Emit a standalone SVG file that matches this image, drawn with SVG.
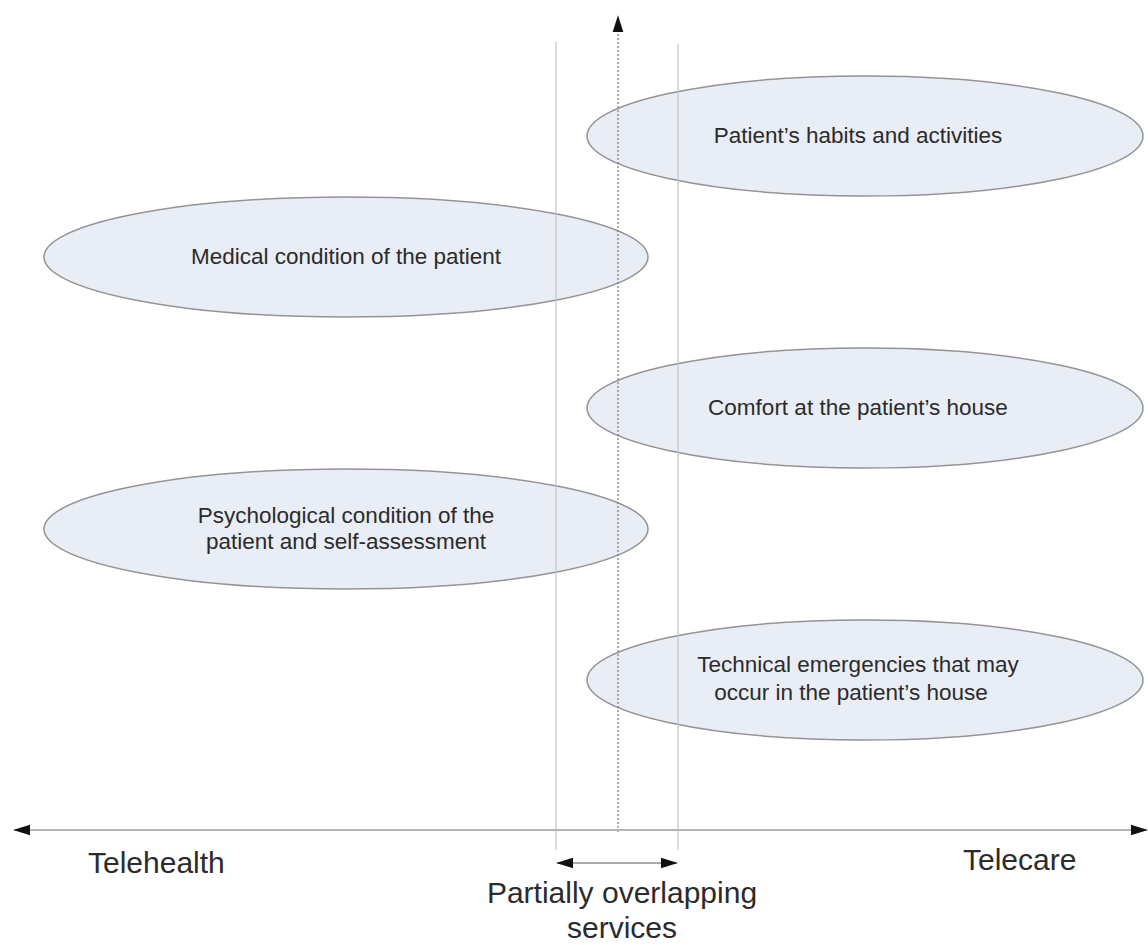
<svg xmlns="http://www.w3.org/2000/svg" width="1148" height="945" viewBox="0 0 1148 945">
  <style>
    .blob { fill: #e9edf5; stroke: #949494; stroke-width: 1.5; }
    .lbl { font-family: "Liberation Sans", Arial, sans-serif; font-size: 22.5px; fill: #2b2b2b; text-anchor: middle; }
    .axis-lbl { font-family: "Liberation Sans", Arial, sans-serif; font-size: 30px; fill: #2b2b2b; }
    .guide { stroke: #c4c4c4; stroke-width: 1.2; fill: none; }
    .axis { stroke: #b5b5b5; stroke-width: 2; fill: none; }
  </style>
  <defs>
    <marker id="head" viewBox="0 0 10 10" refX="9.5" refY="5" markerWidth="17" markerHeight="12" markerUnits="userSpaceOnUse" orient="auto-start-reverse" preserveAspectRatio="none">
      <path d="M0,0.5 L10,5 L0,9.5 Z" fill="#111"/>
    </marker>
  </defs>
  <rect width="1148" height="945" fill="#ffffff"/>

  <!-- topic ellipses -->
  <g id="habits">
    <ellipse class="blob" cx="865" cy="136" rx="278" ry="60"/>
    <text class="lbl" x="858" y="143">Patient’s habits and activities</text>
  </g>
  <g id="medical">
    <ellipse class="blob" cx="346" cy="257" rx="302" ry="60"/>
    <text class="lbl" x="346" y="264">Medical condition of the patient</text>
  </g>
  <g id="comfort">
    <ellipse class="blob" cx="865" cy="408" rx="278" ry="60"/>
    <text class="lbl" x="858" y="415">Comfort at the patient’s house</text>
  </g>
  <g id="psychological">
    <ellipse class="blob" cx="346" cy="529" rx="302" ry="60"/>
    <text class="lbl" x="346" y="523">Psychological condition of the</text>
    <text class="lbl" x="346" y="549">patient and self-assessment</text>
  </g>
  <g id="technical">
    <ellipse class="blob" cx="865" cy="680" rx="278" ry="60"/>
    <text class="lbl" x="858" y="672">Technical emergencies that may</text>
    <text class="lbl" x="851" y="700">occur in the patient’s house</text>
  </g>

  <!-- axes, guides and span arrow -->
  <g id="connectors">
    <line class="guide" x1="556" y1="42" x2="556" y2="850"/>
    <line class="guide" x1="678" y1="44" x2="678" y2="850"/>
    <line x1="618" y1="832" x2="618" y2="16" stroke="#777" stroke-width="1.2" stroke-dasharray="2,2" marker-end="url(#head)"/>
    <line class="axis" x1="14" y1="830" x2="1147" y2="830" marker-start="url(#head)" marker-end="url(#head)"/>
    <line x1="557" y1="863" x2="677" y2="863" stroke="#555" stroke-width="1.2" marker-start="url(#head)" marker-end="url(#head)"/>
  </g>

  <g id="axis-labels">
    <text class="axis-lbl" x="88" y="873">Telehealth</text>
    <text class="axis-lbl" x="963" y="870">Telecare</text>
    <text class="axis-lbl" x="622" y="903" text-anchor="middle">Partially overlapping</text>
    <text class="axis-lbl" x="622" y="938" text-anchor="middle">services</text>
  </g>
</svg>
